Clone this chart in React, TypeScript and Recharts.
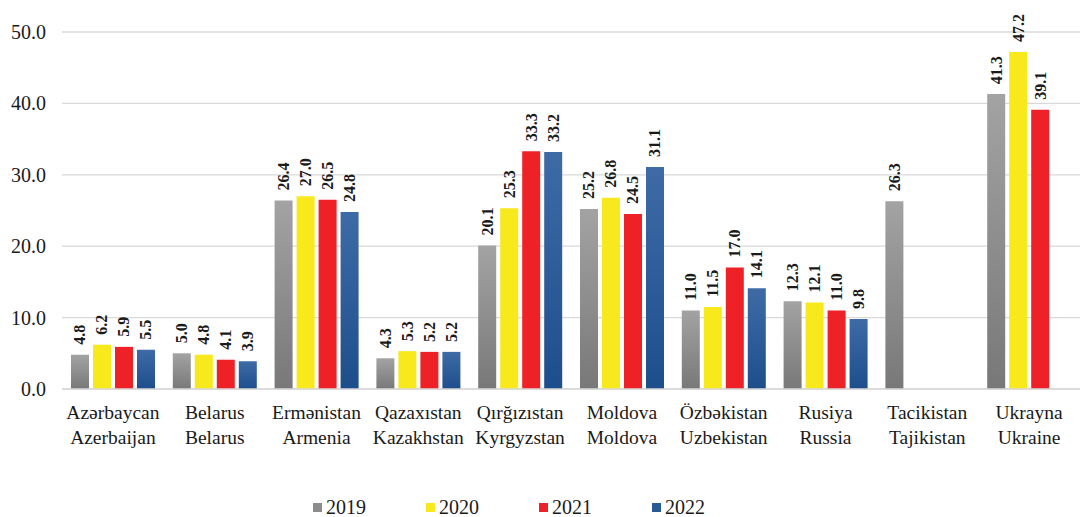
import React from 'react';
import { BarChart, Bar, XAxis, YAxis, CartesianGrid, Legend } from 'recharts';

const countriesAz = ['Azərbaycan', 'Belarus', 'Ermənistan', 'Qazaxıstan', 'Qırğızıstan', 'Moldova', 'Özbəkistan', 'Rusiya', 'Tacikistan', 'Ukrayna'];
const countriesEn = ['Azerbaijan', 'Belarus', 'Armenia', 'Kazakhstan', 'Kyrgyzstan', 'Moldova', 'Uzbekistan', 'Russia', 'Tajikistan', 'Ukraine'];
const v2019 = [4.8, 5.0, 26.4, 4.3, 20.1, 25.2, 11.0, 12.3, 26.3, 41.3];
const v2020 = [6.2, 4.8, 27.0, 5.3, 25.3, 26.8, 11.5, 12.1, null, 47.2];
const v2021 = [5.9, 4.1, 26.5, 5.2, 33.3, 24.5, 17.0, 11.0, null, 39.1];
const v2022 = [5.5, 3.9, 24.8, 5.2, 33.2, 31.1, 14.1, 9.8, null, null];
const yTicks = [0, 10, 20, 30, 40, 50];
const years = ['2019', '2020', '2021', '2022'];

const data = countriesAz.map((c, i) => ({
  az: c,
  en: countriesEn[i],
  y2019: v2019[i],
  y2020: v2020[i],
  y2021: v2021[i],
  y2022: v2022[i],
}));

const FONT = '"Liberation Serif", "Times New Roman", serif';
const fills = ['url(#gGrey)', '#f7e91c', '#ee2127', 'url(#gBlue)'];
const legendColors = ['#8c8c8c', '#f7e91c', '#ee2127', '#2a5a94'];

const ValueLabel = (props: any) => {
  const { x, y, width, value } = props;
  if (value === null || value === undefined) return null;
  const cx = x + width / 2;
  const ty = y - 10;
  return (
    <text
      x={cx}
      y={ty}
      transform={`rotate(-90, ${cx}, ${ty})`}
      textAnchor="start"
      dominantBaseline="central"
      style={{ fontFamily: FONT }}
      fontWeight="bold"
      fontSize={16}
      fill="#1a1a1a"
    >
      {Number(value).toFixed(1)}
    </text>
  );
};

const CatTick = (props: any) => {
  const { x, y, payload } = props;
  const i = countriesAz.indexOf(payload.value);
  return (
    <text x={x} y={y} textAnchor="middle" style={{ fontFamily: FONT }} fontSize={19.5} fill="#1a1a1a">
      <tspan x={x} dy={22}>{payload.value}</tspan>
      <tspan x={x} dy={25}>{countriesEn[i]}</tspan>
    </text>
  );
};

const YTick = (props: any) => {
  const { y, payload } = props;
  return (
    <text x={46} y={y} textAnchor="end" dominantBaseline="central" style={{ fontFamily: FONT }} fontSize={20} fill="#1a1a1a">
      {Number(payload.value).toFixed(1)}
    </text>
  );
};

const LegendContent = () => (
  <div style={{ display: 'flex', justifyContent: 'center', alignItems: 'center', fontFamily: FONT, fontSize: 20, color: '#1a1a1a', paddingRight: 62, paddingTop: 27 }}>
    {years.map((yr, i) => (
      <div key={yr} style={{ display: 'flex', alignItems: 'center', margin: '0 30px' }}>
        <span style={{ display: 'inline-block', width: 9, height: 9, background: legendColors[i], marginRight: 4 }} />
        <span>{yr}</span>
      </div>
    ))}
  </div>
);

export default function App() {
  return (
    <div style={{ position: 'absolute', left: 0, top: 0, width: 1085, height: 517, background: '#fff' }}>
      <BarChart
        width={1085}
        height={517}
        data={data}
        margin={{ top: 32, right: 5, bottom: 0, left: 0 }}
        barSize={18}
        barGap={4}
      >
        <defs>
          <linearGradient id="gGrey" x1="0" y1="0" x2="0" y2="1">
            <stop offset="0%" stopColor="#a3a3a3" />
            <stop offset="100%" stopColor="#787878" />
          </linearGradient>
          <linearGradient id="gBlue" x1="0" y1="0" x2="0" y2="1">
            <stop offset="0%" stopColor="#3e6ba6" />
            <stop offset="100%" stopColor="#1d4e8c" />
          </linearGradient>
        </defs>
        <CartesianGrid vertical={false} stroke="#d9d9d9" strokeWidth={1.3} />
        <XAxis
          dataKey="az"
          axisLine={{ stroke: '#d9d9d9', strokeWidth: 1.3 }}
          tickLine={false}
          interval={0}
          height={80}
          tick={<CatTick />}
        />
        <YAxis
          domain={[0, 50]}
          ticks={yTicks}
          axisLine={false}
          tickLine={false}
          width={62}
          tick={<YTick />}
        />
        <Legend verticalAlign="bottom" height={48} content={<LegendContent />} />
        {years.map((yr, i) => (
          <Bar key={yr} dataKey={`y${yr}`} name={yr} fill={fills[i]} isAnimationActive={false} label={<ValueLabel />} />
        ))}
      </BarChart>
    </div>
  );
}
